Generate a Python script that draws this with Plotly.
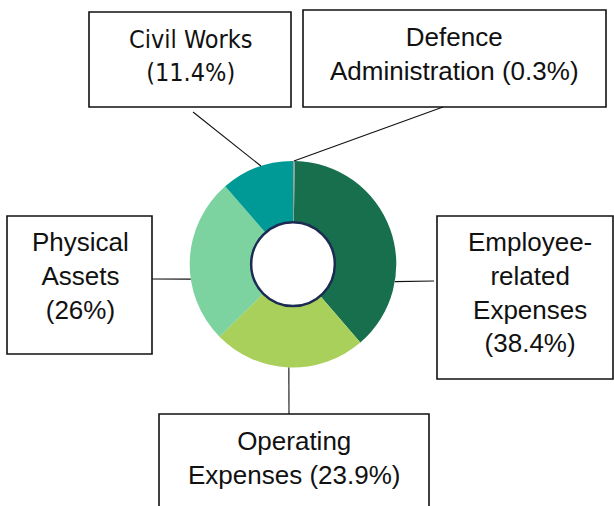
import math
import plotly.graph_objects as go

# Budget shares, listed clockwise from 12 o'clock
categories = ["Defence Administration", "Employee-related Expenses",
              "Operating Expenses", "Physical Assets", "Civil Works"]
shares = [0.3, 38.4, 23.9, 26, 11.4]
colors = ["#8fa3a0", "#176f4e", "#a9d05b", "#7dd3a0", "#009a96"]

# Wrapped label text for each category ({} receives the share)
label_templates = [
    "Defence<br>Administration ({}%)",
    "Employee-<br>related<br>Expenses<br>({}%)",
    "Operating<br>Expenses ({}%)",
    "Physical<br>Assets<br>({}%)",
    "Civil Works<br>({}%)",
]
label_fonts = ["Liberation Sans", "Liberation Sans", "Liberation Sans",
               "Liberation Sans", "DejaVu Sans Condensed"]
label_sizes = [26, 26, 26, 26, 25]

W, H = 614, 506
CX, CY, R = 293.0, 264.2, 103.3
HOLE = 0.405

# Callout boxes (x0, y0, x1, y1) and where the text block is centred
boxes = [(303, 10, 606, 107), (437, 216, 613, 379), (159, 414, 429, 520),
         (7, 216, 152, 354), (89, 12, 291, 107)]
text_centres = [(454, 54), (530, 292), (294, 458), (80, 276), (190, 56)]
# Leader lines: angle on the ring (deg clockwise from top) -> box attach point
leader_angles = [0.5, 99.7, 182.3, 261.7, 341.9]
leader_ends = [(443, 107), (434, 281), (289, 414), (152, 279), (193, 112)]

fig = go.Figure()
fig.add_trace(go.Pie(
    labels=categories, values=shares, sort=False, direction="clockwise",
    rotation=0, hole=HOLE, textinfo="none", hoverinfo="label+percent",
    marker=dict(colors=colors, line=dict(width=0)), showlegend=False,
    domain=dict(x=[(CX - R) / W, (CX + R) / W],
                y=[1 - (CY + R) / H, 1 - (CY - R) / H]),
))

shapes = []
for (x0, y0, x1, y1) in boxes:
    shapes.append(dict(type="rect", xref="x", yref="y", x0=x0, y0=y0, x1=x1, y1=y1,
                       line=dict(color="#111111", width=1.6), fillcolor="rgba(0,0,0,0)"))
for ang, (ex, ey) in zip(leader_angles, leader_ends):
    a = math.radians(ang)
    sx, sy = CX + R * math.sin(a), CY - R * math.cos(a)
    shapes.append(dict(type="line", xref="x", yref="y", x0=sx, y0=sy, x1=ex, y1=ey,
                       line=dict(color="#111111", width=1.1)))
hr = R * HOLE
shapes.append(dict(type="circle", xref="x", yref="y", x0=CX - hr, y0=CY - hr,
                   x1=CX + hr, y1=CY + hr, line=dict(color="#1b2b52", width=2.5),
                   fillcolor="rgba(0,0,0,0)", layer="above"))

annotations = []
for tpl, v, (tx, ty), fam, sz in zip(label_templates, shares, text_centres,
                                     label_fonts, label_sizes):
    annotations.append(dict(text=tpl.format(f"{v:g}"), x=tx, y=ty, xref="x", yref="y",
                            xanchor="center", yanchor="middle", showarrow=False,
                            align="center",
                            font=dict(family=fam, size=sz, color="#111111")))

fig.update_layout(
    width=W, height=H, margin=dict(l=0, r=0, t=0, b=0),
    paper_bgcolor="white", plot_bgcolor="white",
    xaxis=dict(range=[0, W], visible=False, fixedrange=True, domain=[0, 1]),
    yaxis=dict(range=[H, 0], visible=False, fixedrange=True, domain=[0, 1]),
    shapes=shapes, annotations=annotations,
)
fig.write_html("out.html", config={"displayModeBar": False})
